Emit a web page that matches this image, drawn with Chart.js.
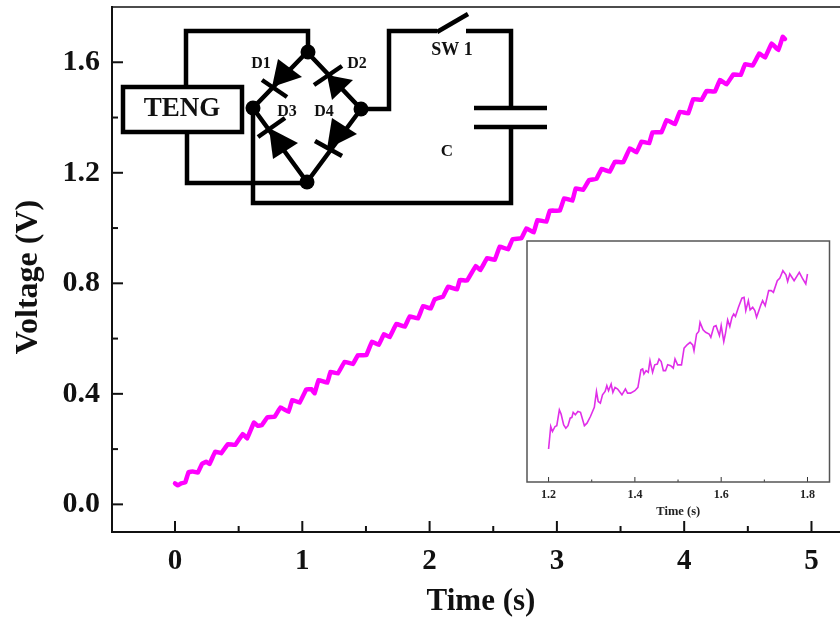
<!DOCTYPE html>
<html>
<head>
<meta charset="utf-8">
<script src="https://cdn.jsdelivr.net/npm/chart.js@4/dist/chart.umd.min.js"></script>
<style>
  html, body { margin: 0; padding: 0; background: #fff; }
  #wrap { position: relative; width: 840px; height: 621px; overflow: hidden; }
  #mainChart { position: absolute; left: 0; top: 0; }
  #insetChart { position: absolute; left: 500px; top: 234px; }
</style>
</head>
<body>
<div id="wrap">
  <canvas id="mainChart" width="840" height="621"></canvas>
  <canvas id="insetChart" width="340" height="290"></canvas>
</div>
<script>
// main curve
const timeMain = [0, 0.022, 0.048, 0.08, 0.106, 0.14, 0.18, 0.211, 0.245, 0.271, 0.316, 0.363, 0.415, 0.473, 0.533, 0.567, 0.62, 0.651, 0.683, 0.725, 0.782, 0.829, 0.892, 0.921, 0.979, 1.031, 1.071, 1.097, 1.128, 1.196, 1.222, 1.28, 1.332, 1.398, 1.437, 1.503, 1.547, 1.6, 1.642, 1.686, 1.739, 1.805, 1.844, 1.909, 1.949, 2.009, 2.04, 2.106, 2.145, 2.216, 2.237, 2.294, 2.363, 2.399, 2.452, 2.512, 2.551, 2.617, 2.651, 2.721, 2.761, 2.818, 2.847, 2.918, 2.944, 3.023, 3.057, 3.122, 3.148, 3.206, 3.253, 3.311, 3.351, 3.416, 3.455, 3.521, 3.573, 3.626, 3.665, 3.725, 3.751, 3.822, 3.862, 3.927, 3.966, 4.032, 4.071, 4.137, 4.176, 4.242, 4.281, 4.333, 4.386, 4.444, 4.478, 4.538, 4.59, 4.635, 4.687, 4.74, 4.774, 4.792];
const voltMain = [0.076, 0.069, 0.076, 0.079, 0.116, 0.119, 0.115, 0.146, 0.154, 0.146, 0.191, 0.185, 0.218, 0.215, 0.255, 0.239, 0.296, 0.284, 0.287, 0.315, 0.317, 0.351, 0.335, 0.378, 0.368, 0.416, 0.417, 0.402, 0.45, 0.44, 0.48, 0.474, 0.516, 0.508, 0.54, 0.54, 0.589, 0.577, 0.616, 0.605, 0.653, 0.643, 0.68, 0.673, 0.718, 0.709, 0.742, 0.752, 0.788, 0.778, 0.812, 0.81, 0.863, 0.848, 0.891, 0.885, 0.933, 0.923, 0.959, 0.963, 0.999, 0.984, 1.029, 1.023, 1.063, 1.063, 1.108, 1.099, 1.144, 1.138, 1.174, 1.178, 1.214, 1.204, 1.24, 1.238, 1.289, 1.274, 1.313, 1.307, 1.347, 1.347, 1.391, 1.376, 1.421, 1.415, 1.467, 1.464, 1.496, 1.494, 1.536, 1.52, 1.556, 1.554, 1.593, 1.588, 1.632, 1.617, 1.668, 1.644, 1.692, 1.684];

// inset curve
const timeInset = [1.2, 1.205, 1.209, 1.215, 1.219, 1.225, 1.229, 1.235, 1.24, 1.245, 1.25, 1.254, 1.257, 1.262, 1.268, 1.274, 1.283, 1.289, 1.297, 1.306, 1.311, 1.315, 1.32, 1.325, 1.331, 1.335, 1.339, 1.345, 1.349, 1.354, 1.36, 1.37, 1.378, 1.383, 1.39, 1.4, 1.407, 1.414, 1.418, 1.421, 1.426, 1.431, 1.435, 1.441, 1.446, 1.452, 1.456, 1.461, 1.466, 1.471, 1.476, 1.483, 1.489, 1.493, 1.499, 1.508, 1.514, 1.521, 1.528, 1.534, 1.537, 1.543, 1.548, 1.551, 1.558, 1.564, 1.572, 1.576, 1.583, 1.588, 1.596, 1.6, 1.606, 1.61, 1.615, 1.62, 1.625, 1.629, 1.633, 1.64, 1.648, 1.653, 1.657, 1.663, 1.667, 1.673, 1.678, 1.682, 1.692, 1.696, 1.702, 1.71, 1.716, 1.721, 1.73, 1.736, 1.743, 1.75, 1.754, 1.759, 1.769, 1.781, 1.788, 1.796, 1.8];
const voltInset = [0.43, 0.457, 0.451, 0.457, 0.458, 0.477, 0.472, 0.459, 0.455, 0.458, 0.467, 0.468, 0.474, 0.471, 0.475, 0.474, 0.458, 0.461, 0.469, 0.48, 0.499, 0.487, 0.485, 0.495, 0.499, 0.506, 0.5, 0.508, 0.498, 0.504, 0.502, 0.495, 0.502, 0.497, 0.497, 0.5, 0.504, 0.525, 0.526, 0.52, 0.524, 0.522, 0.536, 0.522, 0.531, 0.532, 0.538, 0.535, 0.524, 0.524, 0.531, 0.53, 0.527, 0.538, 0.531, 0.531, 0.551, 0.555, 0.558, 0.555, 0.548, 0.568, 0.571, 0.582, 0.573, 0.57, 0.568, 0.564, 0.577, 0.578, 0.566, 0.578, 0.559, 0.569, 0.585, 0.577, 0.588, 0.592, 0.589, 0.6, 0.611, 0.612, 0.596, 0.608, 0.597, 0.6, 0.596, 0.588, 0.603, 0.608, 0.602, 0.62, 0.62, 0.618, 0.632, 0.635, 0.644, 0.639, 0.631, 0.64, 0.632, 0.642, 0.635, 0.628, 0.64];

function toPoints(xs, ys) {
    return xs.map(function (x, i) { return { x: x, y: ys[i] }; });
}

// ticks pointing into the plot, long on the labelled values
function inwardTicks(scale, isMajor, longLen, shortLen, lineWidth, colour) {
    const ctx = scale.ctx;
    const area = scale.chart.chartArea;
    ctx.save();
    ctx.strokeStyle = colour;
    ctx.lineWidth = lineWidth;
    scale.ticks.forEach(function (t) {
        const len = isMajor(t.value) ? longLen : shortLen;
        const p = scale.getPixelForValue(t.value);
        if (p < area.top + 1) return;
        ctx.beginPath();
        if (scale.isHorizontal()) {
            ctx.moveTo(p, area.bottom);
            ctx.lineTo(p, area.bottom - len);
        } else {
            ctx.moveTo(area.left, p);
            ctx.lineTo(area.left + len, p);
        }
        ctx.stroke();
    });
    ctx.restore();
}

const isWholeSecond = function (v) { return Math.abs(v - Math.round(v)) < 1e-6; };
const isVoltLabel = function (v) { return Math.round(v * 10) % 4 === 0 && v < 1.7; };
const isInsetLabel = function (v) { return Math.round(v * 10) % 2 === 0; };

// TENG bridge rectifier sketch in the upper left of the plot
const wires = [
    [[186, 85], [186, 31], [308, 31], [308, 52]],
    [[187, 132], [187, 183], [307, 183]],
    [[307, 52], [253, 108], [307, 182], [361, 109], [307, 52]],
    [[253, 108], [253, 203], [511, 203], [511, 128]],
    [[511, 108], [511, 31], [466, 31]],
    [[361, 109], [389, 109], [389, 31], [437, 31]],
    [[437, 32], [468, 14]],
    [[474, 108], [547, 108]],
    [[474, 127], [547, 127]],
    [[262, 80], [287, 97]],
    [[314, 85], [342, 66]],
    [[258, 137], [285, 118]],
    [[315, 141], [342, 156]]
];
const diodes = [
    [[278, 59], [302, 77], [272, 87]],
    [[327, 75], [353, 80], [332, 100]],
    [[269, 128], [298, 143], [273, 159]],
    [[332, 118], [357, 134], [327, 149]]
];
const nodes = [[308, 52], [253, 108], [361, 109], [307, 182]];
const circuitLabels = [
    ['D1', 261, 64, 16], ['D2', 357, 64, 16], ['D3', 287, 112, 16], ['D4', 324, 112, 16],
    ['SW 1', 452, 50, 18], ['C', 447, 152, 17], ['TENG', 182, 109, 27]
];

const circuitPlugin = {
    id: 'circuit',
    afterDatasetsDraw: function (chart) {
        const ctx = chart.ctx;
        ctx.save();
        ctx.strokeStyle = '#000';
        ctx.fillStyle = '#000';
        ctx.lineWidth = 4.5;
        ctx.lineJoin = 'miter';
        wires.forEach(function (w) {
            ctx.beginPath();
            w.forEach(function (p, i) { i ? ctx.lineTo(p[0], p[1]) : ctx.moveTo(p[0], p[1]); });
            ctx.stroke();
        });
        diodes.forEach(function (d) {
            ctx.beginPath();
            ctx.moveTo(d[0][0], d[0][1]);
            ctx.lineTo(d[1][0], d[1][1]);
            ctx.lineTo(d[2][0], d[2][1]);
            ctx.closePath();
            ctx.fill();
        });
        nodes.forEach(function (n) {
            ctx.beginPath();
            ctx.arc(n[0], n[1], 7.5, 0, Math.PI * 2);
            ctx.fill();
        });
        ctx.strokeRect(123, 87, 119, 45);
        ctx.fillStyle = '#111';
        ctx.textAlign = 'center';
        ctx.textBaseline = 'middle';
        circuitLabels.forEach(function (l) {
            ctx.font = 'bold ' + l[3] + 'px "Liberation Serif"';
            ctx.fillText(l[0], l[1], l[2]);
        });
        ctx.restore();
    }
};

const mainFrame = {
    id: 'mainFrame',
    afterDraw: function (chart) {
        const ctx = chart.ctx;
        const a = chart.chartArea;
        inwardTicks(chart.scales.x, isWholeSecond, 11, 6, 2, '#111');
        inwardTicks(chart.scales.y, isVoltLabel, 11, 6, 2, '#111');
        ctx.save();
        ctx.strokeStyle = '#111';
        ctx.lineWidth = 1.5;
        ctx.beginPath();
        ctx.moveTo(a.left, a.top);
        ctx.lineTo(a.right, a.top);
        ctx.stroke();
        // axis titles sit a little off the plot centre in the reference
        ctx.fillStyle = '#111';
        ctx.textAlign = 'center';
        ctx.textBaseline = 'middle';
        ctx.font = 'bold 31px "Liberation Serif"';
        ctx.fillText('Time (s)', 481, 602);
        ctx.translate(29, 277);
        ctx.rotate(-Math.PI / 2);
        ctx.font = 'bold 32px "Liberation Serif"';
        ctx.fillText('Voltage (V)', 0, 0);
        ctx.restore();
    }
};

const insetFrame = {
    id: 'insetFrame',
    afterDraw: function (chart) {
        const ctx = chart.ctx;
        const a = chart.chartArea;
        inwardTicks(chart.scales.x, isInsetLabel, 5, 2.5, 1, '#333');
        ctx.save();
        ctx.strokeStyle = '#555';
        ctx.lineWidth = 1.5;
        ctx.strokeRect(a.left, a.top, a.right - a.left, a.bottom - a.top);
        ctx.restore();
    }
};

new Chart(document.getElementById('mainChart').getContext('2d'), {
    type: 'line',
    data: {
        datasets: [{
            data: toPoints(timeMain, voltMain),
            borderColor: '#ff00ff',
            borderWidth: 4.5,
            borderJoinStyle: 'round',
            borderCapStyle: 'round',
            pointRadius: 0,
            tension: 0.05,
            fill: false
        }]
    },
    options: {
        responsive: false,
        animation: false,
        layout: { padding: { top: 7, right: 0, left: 0, bottom: 0 } },
        plugins: { legend: { display: false }, tooltip: { enabled: false } },
        scales: {
            x: {
                type: 'linear',
                min: -0.495,
                max: 5.224,
                afterFit: function (s) { s.height = 89; s.paddingLeft = 0; s.paddingRight = 0; },
                grid: { display: false, drawTicks: false },
                border: { display: true, color: '#111', width: 2 },
                ticks: {
                    stepSize: 0.5,
                    includeBounds: false,
                    autoSkip: false,
                    maxRotation: 0,
                    padding: 12,
                    color: '#111',
                    font: { family: 'Liberation Serif', weight: 'bold', size: 29 },
                    callback: function (v) { return isWholeSecond(v) ? String(Math.round(v)) : ''; }
                }
            },
            y: {
                type: 'linear',
                min: -0.1,
                max: 1.8,
                afterFit: function (s) { s.width = 112; s.paddingTop = 0; s.paddingBottom = 0; },
                grid: { display: false, drawTicks: false },
                border: { display: true, color: '#111', width: 2 },
                ticks: {
                    stepSize: 0.2,
                    includeBounds: false,
                    autoSkip: false,
                    padding: 12,
                    color: '#111',
                    font: { family: 'Liberation Serif', weight: 'bold', size: 30 },
                    callback: function (v) { return isVoltLabel(v) ? v.toFixed(1) : ''; }
                }
            }
        }
    },
    plugins: [mainFrame, circuitPlugin]
});

new Chart(document.getElementById('insetChart').getContext('2d'), {
    type: 'line',
    data: {
        datasets: [{
            data: toPoints(timeInset, voltInset),
            borderColor: '#e02ee8',
            borderWidth: 1.6,
            pointRadius: 0,
            tension: 0,
            fill: false
        }]
    },
    options: {
        responsive: false,
        animation: false,
        layout: { padding: { top: 7, right: 10.5, left: 27, bottom: 0 } },
        plugins: { legend: { display: false }, tooltip: { enabled: false } },
        scales: {
            x: {
                type: 'linear',
                min: 1.15,
                max: 1.851,
                afterFit: function (s) { s.height = 42; s.paddingLeft = 0; s.paddingRight = 0; },
                grid: { display: false, drawTicks: false },
                border: { display: false },
                ticks: {
                    stepSize: 0.1,
                    includeBounds: false,
                    autoSkip: false,
                    maxRotation: 0,
                    padding: 6,
                    color: '#222',
                    font: { family: 'Liberation Serif', weight: 'bold', size: 12 },
                    callback: function (v) { return isInsetLabel(v) ? v.toFixed(1) : ''; }
                },
                title: {
                    display: true,
                    text: 'Time (s)',
                    color: '#222',
                    padding: { top: 0, bottom: 5 },
                    font: { family: 'Liberation Serif', weight: 'bold', size: 12.5 }
                }
            },
            y: {
                type: 'linear',
                min: 0.3904,
                max: 0.6796,
                display: false
            }
        }
    },
    plugins: [insetFrame]
});
</script>
</body>
</html>
